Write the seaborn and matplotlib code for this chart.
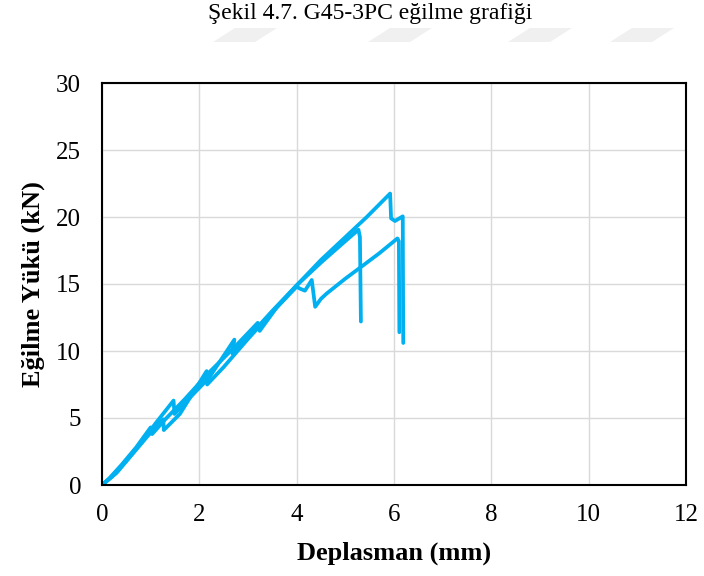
import matplotlib
matplotlib.use("Agg")
import matplotlib.pyplot as plt
from matplotlib.patches import Polygon
import numpy as np
import pandas as pd
import seaborn as sns

# Data (displacement mm, load kN) for three specimens
spec_a_x = [0, 0.15, 0.4, 0.7, 1.0, 1.03, 1.3, 1.7, 2.2, 2.7, 3.2, 3.24, 3.6, 4.0, 4.5, 5.0, 5.44, 5.92, 5.94, 6.02, 6.18, 6.19]
spec_a_y = [0, 0.5, 1.5, 2.8, 4.3, 3.8, 4.9, 6.4, 8.4, 10.2, 12.1, 11.5, 13.3, 14.9, 16.8, 18.5, 20.0, 21.75, 19.9, 19.7, 20.05, 10.6]

spec_b_x = [0, 0.2, 0.5, 0.8, 1.1, 1.47, 1.49, 1.8, 2.2, 2.72, 2.68, 3.0, 3.5, 4.0, 4.5, 5.0, 5.27, 5.30, 5.32]
spec_b_y = [0, 0.6, 1.8, 3.1, 4.6, 6.3, 5.3, 6.5, 8.0, 10.85, 9.8, 11.0, 13.0, 14.9, 16.6, 18.2, 19.05, 18.5, 12.2]

spec_c_x = [0, 0.3, 0.6, 0.95, 1.26, 1.27, 1.6, 2.15, 2.16, 2.5, 3.0, 3.5, 4.0, 4.07, 4.17, 4.31, 4.38, 4.5, 4.62, 5.0, 5.37, 5.7, 6.07, 6.1, 6.11]
spec_c_y = [0, 0.9, 2.2, 3.7, 4.9, 4.1, 5.3, 8.5, 7.5, 8.8, 10.9, 12.9, 14.8, 14.65, 14.5, 15.3, 13.3, 13.9, 14.3, 15.4, 16.4, 17.3, 18.4, 18.2, 11.4]

x_ticks = [0, 2, 4, 6, 8, 10, 12]
y_ticks = [0, 5, 10, 15, 20, 25, 30]

title_text = "Şekil 4.7. G45-3PC eğilme grafiği"
xlabel_text = "Deplasman (mm)"
ylabel_text = "Eğilme Yükü (kN)"

frames = []
for name, xs, ys in [("A", spec_a_x, spec_a_y), ("B", spec_b_x, spec_b_y), ("C", spec_c_x, spec_c_y)]:
    frames.append(pd.DataFrame({"x": xs, "y": ys, "spec": name, "order": range(len(xs))}))
df = pd.concat(frames, ignore_index=True)

sns.set_style("white")
plt.rcParams["font.family"] = ["Liberation Serif", "DejaVu Serif"]

fig = plt.figure(figsize=(7.04, 5.76), dpi=100)
ax = fig.add_axes([102 / 704, 91 / 576, 584 / 704, 402 / 576])

# faint watermark stripes
for x0 in [235, 390, 530, 632]:
    poly = Polygon([[x0, 548], [x0 + 42, 548], [x0 + 20, 534], [x0 - 22, 534]],
                   closed=True, transform=None, facecolor="#F0F0F0", edgecolor="none", zorder=0)
    fig.patches.append(poly)

sns.lineplot(data=df, x="x", y="y", units="spec", estimator=None, sort=False,
             color="#00B0F0", linewidth=2.7, ax=ax, legend=False)

ax.set_xlim(0, 12)
ax.set_ylim(0, 30)
ax.set_xticks(x_ticks)
ax.set_yticks(y_ticks)
ax.grid(True, color="#D9D9D9", linewidth=1.0)
ax.set_axisbelow(True)
for sp in ax.spines.values():
    sp.set_visible(True)
    sp.set_color("black")
    sp.set_linewidth(1.5)
ax.tick_params(axis="both", length=0, labelsize=18, colors="black")
ax.tick_params(axis="x", pad=14)
ax.tick_params(axis="y", pad=15)
ax.set_xlabel(xlabel_text, fontsize=19, fontweight="bold", labelpad=11, color="black")
ax.set_ylabel(ylabel_text, fontsize=19, fontweight="bold", labelpad=8, color="black")

fig.text(370 / 704, 1 - 14 / 576, title_text, ha="center", va="center", fontsize=17, color="black")

fig.savefig("out.png", dpi=100)
